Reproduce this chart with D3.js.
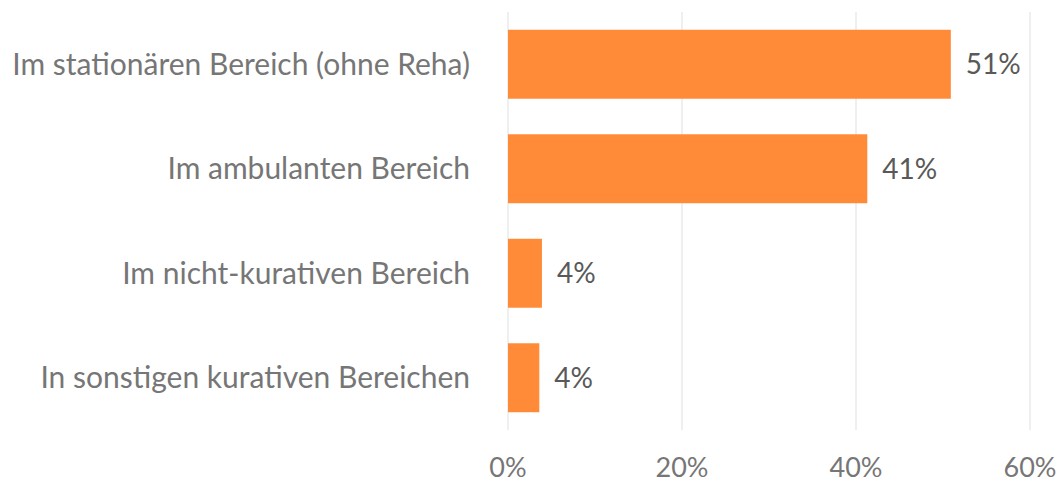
<!DOCTYPE html>
<html>
<head>
<meta charset="utf-8">
<script src="https://cdn.jsdelivr.net/npm/d3@7"></script>
<style>
  body { margin: 0; background: #fff; }
  svg text { font-family: Lato, "Open Sans", sans-serif; }
</style>
</head>
<body>
<svg id="chart" width="1064" height="485"></svg>
<script>
var categories = ["Im stationären Bereich (ohne Reha)", "Im ambulanten Bereich", "Im nicht-kurativen Bereich", "In sonstigen kurativen Bereichen"];
var values = [50.9, 41.3, 3.9, 3.6];
var ticks = [0, 20, 40, 60];

var svg = d3.select("#chart");
var x = d3.scaleLinear().domain([0, 60]).range([508, 1030]);
var y = d3.scaleBand().domain(categories).range([12, 430]).paddingInner(0.34).paddingOuter(0.17);

// gridlines
svg.append("g").selectAll("line").data(ticks).join("line")
  .attr("x1", d => x(d)).attr("x2", d => x(d))
  .attr("y1", 12).attr("y2", 430)
  .attr("stroke", "#e6e6e6").attr("stroke-width", 1.3);

// tick labels
svg.append("g").selectAll("text").data(ticks).join("text")
  .attr("x", d => x(d)).attr("y", 477)
  .attr("text-anchor", "middle")
  .attr("font-size", 27).attr("fill", "#767676")
  .text(d => d + "%");

// bars
svg.append("g").selectAll("rect").data(values).join("rect")
  .attr("x", x(0)).attr("y", (d, i) => y(categories[i]))
  .attr("width", d => x(d) - x(0)).attr("height", y.bandwidth())
  .attr("fill", "#ff8b38");

// value labels
svg.append("g").selectAll("text").data(values).join("text")
  .attr("x", d => x(d) + 15).attr("y", (d, i) => y(categories[i]) + y.bandwidth() / 2)
  .attr("dy", "0.35em")
  .attr("font-size", 28).attr("fill", "#595959")
  .text(d => Math.round(d) + "%");

// category labels
svg.append("g").selectAll("text").data(categories).join("text")
  .attr("x", 470).attr("y", d => y(d) + y.bandwidth() / 2)
  .attr("dy", "0.35em").attr("text-anchor", "end")
  .attr("font-size", 30).attr("fill", "#767676")
  .text(d => d);
</script>
</body>
</html>
